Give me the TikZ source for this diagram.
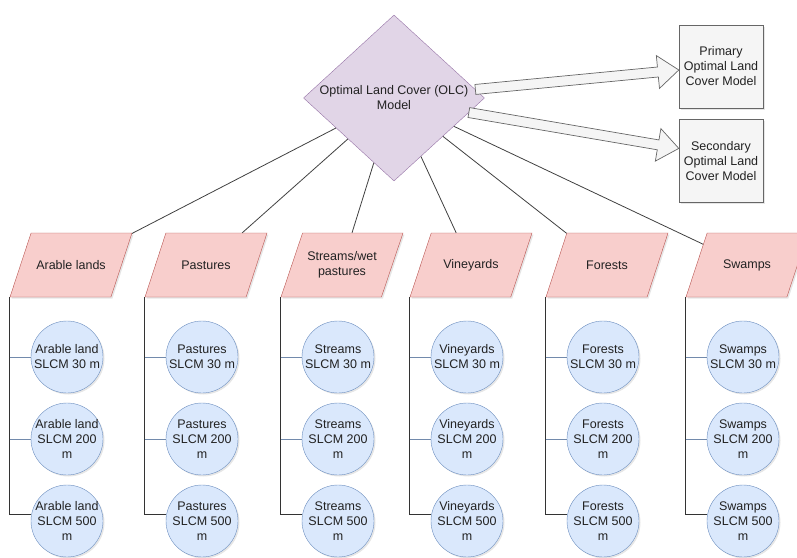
\documentclass[tikz,border=0pt]{standalone}
\usepackage{fontspec}
\setmainfont{Liberation Sans}
\usetikzlibrary{arrows.meta,positioning,calc,shapes.geometric,shadows}
\definecolor{ink}{HTML}{222222}
\definecolor{olcfill}{HTML}{E1D5E7}
\definecolor{olcline}{HTML}{9673A6}
\definecolor{resfill}{HTML}{F5F5F5}
\definecolor{resline}{HTML}{666666}
\definecolor{covfill}{HTML}{F8CECC}
\definecolor{covline}{HTML}{B85450}
\definecolor{slcmfill}{HTML}{DAE8FC}
\definecolor{slcmline}{HTML}{6C8EBF}

\begin{document}
\begin{tikzpicture}[x=1pt,y=-1pt,font=\fontsize{12.5}{15}\selectfont,text=ink,
    shade/.style={drop shadow={opacity=0.2,shadow xshift=1.5pt,shadow yshift=-1.5pt}},
    model/.style={diamond,draw=olcline,fill=olcfill,aspect=1.09,minimum width=181pt,
                  minimum height=166pt,inner sep=0pt,align=center},
    result/.style={draw=resline,fill=resfill,minimum width=84pt,minimum height=83pt,
                   inner sep=1pt,align=center,shade},
    cover/.style={trapezium,trapezium left angle=71,trapezium right angle=109,
                  trapezium stretches body,draw=covline,fill=covfill,minimum width=122pt,
                  minimum height=64pt,inner xsep=2pt,align=center,shade},
    slcm/.style={circle,draw=slcmline,fill=slcmfill,minimum size=72pt,inner sep=-6pt,
                 align=center,shade},
    link/.style={draw=black!75,line width=0.8pt},
    trunk/.style={draw=black!80,line width=0.7pt},
    branch/.style={draw=slcmline!70!gray,line width=0.7pt},
    fat/.style={draw=resline,fill=resfill,line width=0.7pt}]
    \useasboundingbox (0,0) rectangle (797,557);
    \node[model] (olc) at (394,98) {Optimal Land Cover (OLC)\\Model};
    \node[result] (prim) at (721,66.5) {Primary\\Optimal Land\\Cover Model};
    \node[result,below=11pt of prim] (sec) {Secondary\\Optimal Land\\Cover Model};

    \foreach \lab/\kind/\L/\ys [count=\i] in {Arable lands/Arable land/10/26pt,
        Pastures/Pastures/145/26pt,{Streams/wet\\pastures}/Streams/281/18pt,
        Vineyards/Vineyards/410/25pt,Forests/Forests/546/26pt,Swamps/Swamps/686/25pt}{
        \node[cover,inner ysep=\ys] (c\i) at (\L+61,265) {\lab};
        \node[slcm] (s\i-1) at (\L+57,357) {\kind\\SLCM 30 m};
        \node[slcm] (s\i-2) at (\L+57,439) {\kind\\SLCM 200\\m};
        \node[slcm] (s\i-3) at (\L+57,521) {\kind\\SLCM 500\\m};
        \draw[link] (olc) -- (c\i);
        \draw[trunk] (c\i.bottom left corner) |- (s\i-3.170);
        \draw[branch] (c\i.bottom left corner |- s\i-1.west) -- (s\i-1.west);
        \draw[branch] (c\i.bottom left corner |- s\i-2.west) -- (s\i-2.west);
    }

    \coordinate (pa) at (olc.6);
    \coordinate (pt) at ($(prim.west)+(0,3.5)$);
    \coordinate (sa) at (olc.-11);
    \coordinate (st) at ($(sec.west)+(0,-12.5)$);
    \foreach \s/\t in {pa/pt,sa/st}{
        \coordinate (h) at ($(\t)!21pt!(\s)$);
        \draw[fat] ($(\s)!5pt!90:(\t)$) -- ($(h)!5pt!-90:(\s)$) -- ($(h)!16.5pt!-90:(\s)$)
            -- (\t) -- ($(h)!16.5pt!90:(\s)$) -- ($(h)!5pt!90:(\s)$)
            -- ($(\s)!5pt!-90:(\t)$) -- cycle;
    }
\end{tikzpicture}
\end{document}
